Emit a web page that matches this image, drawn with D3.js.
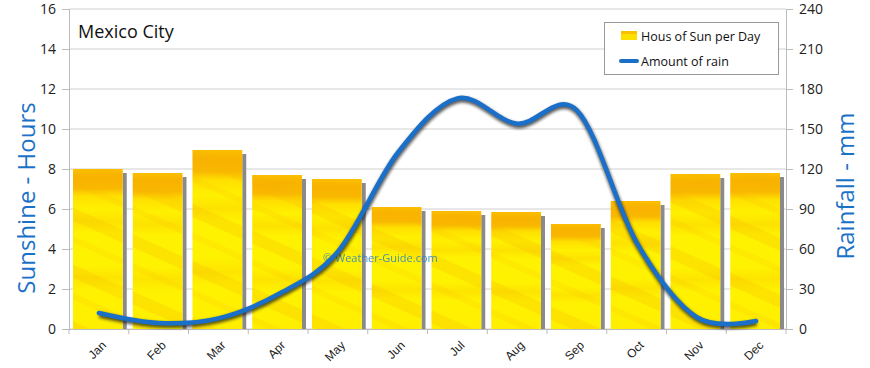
<!DOCTYPE html>
<html><head><meta charset="utf-8">
<script src="https://cdn.jsdelivr.net/npm/d3@7"></script>
<style>
body{margin:0;background:#fff;}
svg{display:block;font-family:"Open Sans",sans-serif;}
</style></head>
<body><div id="chart"></div>
<script>
const months = ["Jan","Feb","Mar","Apr","May","Jun","Jul","Aug","Sep","Oct","Nov","Dec"];
const sunHours = [8.0, 7.8, 8.95, 7.7, 7.5, 6.1, 5.9, 5.85, 5.25, 6.4, 7.75, 7.8];
const rainMm = [12, 4.5, 8, 26, 58, 132, 173, 154, 164, 65, 9, 6];
const leftTicks = [0,2,4,6,8,10,12,14,16];
const rightTicks = [0,30,60,90,120,150,180,210,240];

const W = 870, H = 368;
const m = {l:69, r:84, t:9, b:39};
const svg = d3.select("#chart").append("svg").attr("width",W).attr("height",H);
const defs = svg.append("defs");

const x = d3.scaleBand().domain(months).range([m.l, W-m.r]).padding(0);
const yL = d3.scaleLinear().domain([0,16]).range([H-m.b, m.t]);
const yR = d3.scaleLinear().domain([0,240]).range([H-m.b, m.t]);

// bar fill gradient (vertical)
const g = defs.append("linearGradient").attr("id","sun").attr("x1","0").attr("y1","0").attr("x2","0").attr("y2","1");
[[0,"#fbbf00"],[0.05,"#f8b200"],[0.12,"#f9b800"],[0.17,"#ffe000"],[0.25,"#fff000"],[0.33,"#fde200"],[0.4,"#fff200"],[0.6,"#fff200"],[0.68,"#fde400"],[0.76,"#fff200"],[1,"#ffee00"]]
  .forEach(([o,c])=>g.append("stop").attr("offset",o).attr("stop-color",c));
const pat = defs.append("pattern").attr("id","streak").attr("patternUnits","userSpaceOnUse")
  .attr("width",80).attr("height",52).attr("patternTransform","rotate(24)");
pat.append("rect").attr("y",4).attr("width",80).attr("height",12).attr("fill","#f7b000").attr("opacity",0.22);
pat.append("rect").attr("y",30).attr("width",80).attr("height",6).attr("fill","#f7b000").attr("opacity",0.14);

const blur = defs.append("filter").attr("id","blur").attr("x","-10%").attr("y","-10%").attr("width","120%").attr("height","130%");
blur.append("feGaussianBlur").attr("stdDeviation",1.5);

// grid
svg.append("g").selectAll("line").data(leftTicks).join("line")
  .attr("x1",m.l).attr("x2",W-m.r).attr("y1",d=>yL(d)).attr("y2",d=>yL(d))
  .attr("stroke","#d0d0d0").attr("stroke-width",1);

// axes
const axL = svg.append("g").attr("transform",`translate(${m.l},0)`)
  .call(d3.axisLeft(yL).tickValues(leftTicks).tickSize(7).tickPadding(6));
const axR = svg.append("g").attr("transform",`translate(${W-m.r},0)`)
  .call(d3.axisRight(yR).tickValues(rightTicks).tickSize(7).tickPadding(6));
const axB = svg.append("g").attr("transform",`translate(0,${H-m.b})`)
  .call(d3.axisBottom(x).tickSize(0).tickPadding(0));
[axL,axR].forEach(a=>{
  a.select(".domain").attr("stroke","#bbb");
  a.selectAll(".tick line").attr("stroke","#bbb");
  a.selectAll("text").attr("font-size",14).attr("fill","#222").attr("font-family","'Open Sans',sans-serif");
});
axB.select(".domain").attr("stroke","#bbb");
axB.selectAll(".tick text").attr("font-size",12).attr("fill","#222")
  .attr("text-anchor","end").attr("dy",0)
  .attr("transform","translate(8,17) rotate(-45)");
// bottom boundary ticks
svg.append("g").selectAll("line").data(d3.range(13)).join("line")
  .attr("x1",i=>m.l + i*x.step()).attr("x2",i=>m.l + i*x.step())
  .attr("y1",H-m.b).attr("y2",H-m.b+5).attr("stroke","#bbb");

// bars
const bars = svg.append("g");
bars.selectAll("rect.sh").data(sunHours).join("rect").attr("class","sh")
  .attr("x",(d,i)=>x(months[i])+x.bandwidth()-6).attr("width",4)
  .attr("y",d=>yL(d)+4).attr("height",d=>yL(0)-yL(d)-4)
  .attr("fill","#8a8a8a");
bars.selectAll("rect.b").data(sunHours).join("rect").attr("class","b")
  .attr("x",(d,i)=>x(months[i])+4).attr("width",x.bandwidth()-10)
  .attr("y",d=>yL(d)).attr("height",d=>yL(0)-yL(d))
  .attr("fill","url(#sun)");
bars.selectAll("rect.s").data(sunHours).join("rect").attr("class","s")
  .attr("x",(d,i)=>x(months[i])+4).attr("width",x.bandwidth()-10)
  .attr("y",d=>yL(d)).attr("height",d=>yL(0)-yL(d))
  .attr("fill","url(#streak)");

// watermark
svg.append("text").attr("x",323).attr("y",262).attr("font-size",11).attr("fill","#2a7fc8")
  .attr("opacity",0.85).text("© Weather-Guide.com");

// rain line
const line = d3.line().x((d,i)=>x(months[i])+x.bandwidth()/2).y(d=>yR(d)).curve(d3.curveCatmullRom.alpha(0));
svg.append("path").datum(rainMm).attr("d",line).attr("fill","none")
  .attr("stroke","#151515").attr("stroke-width",5.5).attr("opacity",0.7)
  .attr("transform","translate(0.5,2)").attr("filter","url(#blur)");
svg.append("path").datum(rainMm).attr("d",line).attr("fill","none")
  .attr("stroke","#1a6fc8").attr("stroke-width",4.5).attr("stroke-linecap","round");

// titles
svg.append("text").attr("x",78).attr("y",38).attr("font-size",18).attr("fill","#111").text("Mexico City");
svg.append("text").attr("transform","translate(35,198) rotate(-90)").attr("text-anchor","middle")
  .attr("font-size",24).attr("fill","#1a72c8").text("Sunshine - Hours");
svg.append("text").attr("transform","translate(854,186) rotate(-90)").attr("text-anchor","middle")
  .attr("font-size",24).attr("fill","#1a72c8").text("Rainfall - mm");

// legend
const lg = svg.append("g");
lg.append("rect").attr("x",604.5).attr("y",22.5).attr("width",174).attr("height",52)
  .attr("fill","#fff").attr("stroke","#999");
lg.append("rect").attr("x",621).attr("y",31).attr("width",16).attr("height",9).attr("fill","#fbe000");
lg.append("rect").attr("x",621).attr("y",31).attr("width",16).attr("height",3).attr("fill","#f8c000");
lg.append("text").attr("x",641).attr("y",41).attr("font-size",12.5).attr("fill","#111").text("Hous of Sun per Day");
lg.append("line").attr("x1",621).attr("x2",637).attr("y1",61).attr("y2",61)
  .attr("stroke","#1a6fc8").attr("stroke-width",4).attr("stroke-linecap","round");
lg.append("text").attr("x",641).attr("y",66).attr("font-size",12.5).attr("fill","#111").text("Amount of rain");
</script></body></html>
